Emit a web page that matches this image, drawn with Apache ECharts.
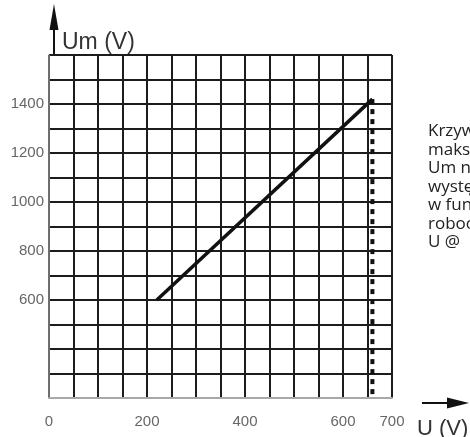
<!DOCTYPE html>
<html>
<head>
<meta charset="utf-8">
<script src="https://cdn.jsdelivr.net/npm/echarts@6/dist/echarts.min.js"></script>
<style>
  html, body { margin: 0; padding: 0; background: #fff; }
  #chart { width: 470px; height: 437px; }
</style>
</head>
<body>
<div id="chart"></div>
<script>
// Operating voltage U (V) and the resulting maximum voltage Um (V)
const uValues = [220, 660];
const umValues = [600, 1420];

// Upper limit of the operating voltage (dashed marker)
const uLimit = 660;
const umLimitRange = [1420, 200];

// Labelled ticks on each axis
const xTickLabels = [0, 200, 400, 600, 700];
const yTickLabels = [600, 800, 1000, 1200, 1400];

// Side note (runs past the right edge of the page)
const noteLines = ['Krzywa', 'maksymalnego', 'Um napięcia', 'występującego', 'w funkcji napięcia', 'roboczego', 'U @'];

const chart = echarts.init(document.getElementById('chart'), null, { renderer: 'canvas' });

const gridLine = { color: '#1c1c1c', width: 2 };
const labelFont = 'Liberation Sans';

chart.setOption({
  animation: false,
  backgroundColor: '#ffffff',
  grid: { left: 49, right: 78, top: 55, bottom: 39, containLabel: false },
  xAxis: {
    type: 'value',
    min: 0, max: 700, interval: 50,
    axisLine: { show: true, lineStyle: { color: '#a8a8a8', width: 2 } },
    axisTick: { show: false },
    splitLine: { show: true, lineStyle: gridLine },
    axisLabel: {
      margin: 16,
      color: '#666', fontFamily: labelFont, fontSize: 15,
      formatter: v => (xTickLabels.includes(v) ? String(v) : '')
    }
  },
  yAxis: {
    type: 'value',
    min: 200, max: 1600, interval: 100,
    axisLine: { show: true, lineStyle: { color: '#8a8a8a', width: 1.5 } },
    axisTick: { show: false },
    splitLine: { show: true, lineStyle: gridLine },
    axisLabel: {
      margin: 5,
      color: '#666', fontFamily: labelFont, fontSize: 15,
      formatter: v => (yTickLabels.includes(v) ? String(v) : '')
    }
  },
  series: [
    {
      type: 'line',
      data: uValues.map((u, i) => [u, umValues[i]]),
      showSymbol: false,
      lineStyle: { color: '#111', width: 3.5 },
      z: 5
    },
    {
      type: 'line',
      data: umLimitRange.map(um => [uLimit, um]),
      showSymbol: false,
      lineStyle: { color: '#111', width: 4, type: [5, 5] },
      z: 4
    }
  ],
  graphic: [
    // vertical axis arrow
    { type: 'line', shape: { x1: 54, y1: 56, x2: 54, y2: 24 }, style: { stroke: '#111', lineWidth: 2 } },
    { type: 'polygon', shape: { points: [[49.5, 30], [54, 4], [58.5, 30]] }, style: { fill: '#111' } },
    {
      type: 'text', left: 62, top: 31,
      style: { text: 'Um (V)', fill: '#333', fontSize: 23, fontFamily: 'Liberation Sans' }
    },
    // horizontal axis arrow
    { type: 'line', shape: { x1: 422, y1: 403, x2: 452, y2: 403 }, style: { stroke: '#111', lineWidth: 2 } },
    { type: 'polygon', shape: { points: [[447, 397.5], [469, 403], [447, 408.5]] }, style: { fill: '#111' } },
    {
      type: 'text', left: 417, top: 418,
      style: { text: 'U (V)', fill: '#333', fontSize: 22, fontFamily: 'Liberation Sans' }
    },
    // side note
    {
      type: 'text', x: 428, y: 122,
      style: {
        text: noteLines.join('\n'),
        fill: '#222',
        fontSize: 17,
        fontFamily: 'Open Sans',
        lineHeight: 18.5
      }
    }
  ]
});
</script>
</body>
</html>
